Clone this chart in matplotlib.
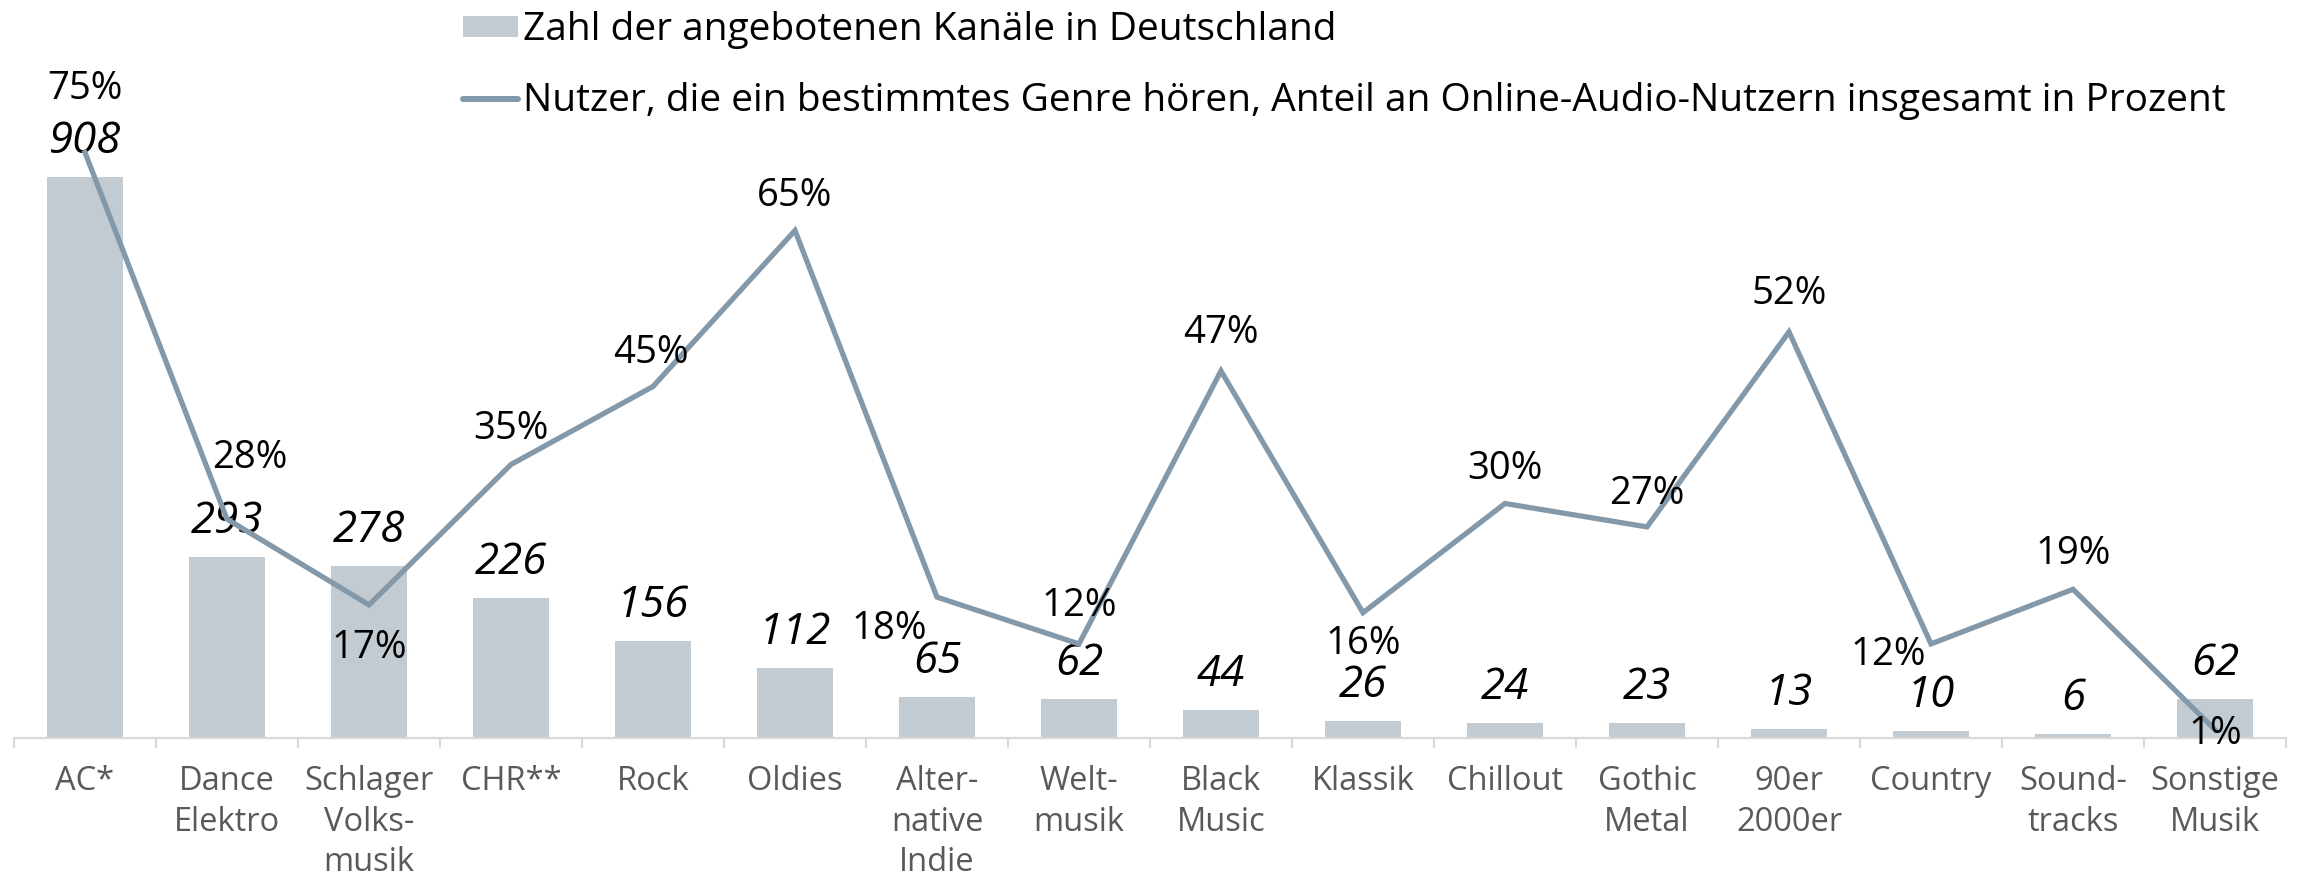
import numpy as np
import matplotlib.pyplot as plt
from matplotlib.patches import Patch
from matplotlib.lines import Line2D

plt.rcParams['font.family'] = ['Open Sans', 'DejaVu Sans']

genres = ["AC*", "Dance\nElektro", "Schlager\nVolks-\nmusik", "CHR**", "Rock", "Oldies",
          "Alter-\nnative\nIndie", "Welt-\nmusik", "Black\nMusic", "Klassik", "Chillout",
          "Gothic\nMetal", "90er\n2000er", "Country", "Sound-\ntracks", "Sonstige\nMusik"]
kanaele = [908, 293, 278, 226, 156, 112, 65, 62, 44, 26, 24, 23, 13, 10, 6, 62]
nutzer_pct = [75, 28, 17, 35, 45, 65, 18, 12, 47, 16, 30, 27, 52, 12, 19, 1]

bar_label = "Zahl der angebotenen Kanäle in Deutschland"
line_label = "Nutzer, die ein bestimmtes Genre hören, Anteil an Online-Audio-Nutzern insgesamt in Prozent"

# Versatz der Prozent-Beschriftungen relativ zum Linienpunkt (Pixel)
pct_offsets = [(0, 64), (23, 61), (0, -43), (0, 36), (-2, 34), (0, 35), (-48, -32), (0, 38),
               (0, 38), (0, -31), (0, 35), (0, 33), (0, 38), (-43, -11), (0, 35), (0, -4)]

bar_color = "#c2cbd2"
line_color = "#8399aa"
axis_color = "#d9d9d9"

W, H = 2303, 876
fig = plt.figure(figsize=(W / 100, H / 100), dpi=100)
base = 737.5
ax = fig.add_axes([14 / W, (H - base) / H, 2272 / W, base / H])
ax2 = ax.twinx()

x = np.arange(len(genres))
ax.bar(x, kanaele, width=0.54, color=bar_color, zorder=1)
ax.set_xlim(-0.5, len(genres) - 0.5)
ax.set_ylim(0, base / 0.617)

ax2.plot(x, nutzer_pct, color=line_color, linewidth=3.8, solid_joinstyle="miter", zorder=2)
ax2.set_ylim(0, base / 7.8)

for a in (ax, ax2):
    for s in ("top", "right", "left"):
        a.spines[s].set_visible(False)
    a.set_yticks([])
ax2.spines["bottom"].set_visible(False)
ax.spines["bottom"].set_color(axis_color)
ax.spines["bottom"].set_linewidth(1.6)

ax.set_xticks(x)
ax.set_xticklabels(genres, fontsize=23.5, color="#595959", linespacing=1.3)
ax.tick_params(axis="x", which="major", length=0, pad=20)
ax.set_xticks(np.arange(-0.5, len(genres)), minor=True)
ax.tick_params(axis="x", which="minor", length=7, width=1.5, color=axis_color)

for xi, v in zip(x, kanaele):
    ax.annotate(str(v), (xi, v), xytext=(0, 24), textcoords="offset pixels",
                ha="center", va="baseline", fontsize=31.5, style="italic", color="black", zorder=5)

for xi, p, (dx, dy) in zip(x, nutzer_pct, pct_offsets):
    ax2.annotate(f"{p}%", (xi, p), xytext=(dx, dy), textcoords="offset pixels",
                 ha="center", va="center", fontsize=27.5, color="black", zorder=5)

handles = [Patch(facecolor=bar_color, edgecolor="none", label=bar_label),
           Line2D([0], [0], color=line_color, linewidth=4.3, solid_capstyle="round", label=line_label)]
fig.legend(handles=handles, loc="upper left", bbox_to_anchor=(463 / W, 1 - 11 / H),
           frameon=False, fontsize=28, handlelength=1.42, handleheight=0.46, handletextpad=0.13,
           labelspacing=0.86, borderpad=0, borderaxespad=0)

fig.savefig("out.png", dpi=100)
